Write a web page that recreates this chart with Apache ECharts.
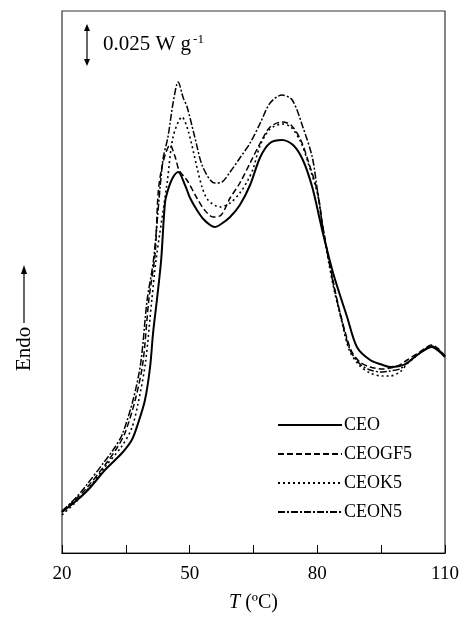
<!DOCTYPE html>
<html>
<head>
<meta charset="utf-8">
<script src="https://cdn.jsdelivr.net/npm/echarts@6/dist/echarts.min.js"></script>
<style>html,body{margin:0;padding:0;background:#fff;}#c{width:465px;height:623px;}</style>
</head>
<body>
<div id="c"></div>
<script>
// Temperature (°C) and heat flow (arbitrary units, endo up)
const CEO = [[20.0,41],[23.0,51],[26.1,63],[30.1,83],[34.1,100],[36.4,113],[37.9,130],[39.5,153],[40.7,186],[41.4,220],[42.3,253],[43.3,293],[44.2,350],[44.9,363],[46.0,375],[47.3,381],[48.9,368],[50.1,355],[51.7,343],[53.2,334],[54.8,328],[55.9,326],[57.4,329],[59.5,336],[61.8,348],[64.2,368],[66.6,396],[68.9,410],[71.7,413],[74.3,408],[76.6,393],[78.8,366],[80.6,333],[81.3,320],[83.7,280],[87.0,236],[89.3,206],[92.4,193],[95.4,188],[97.1,186],[99.4,187],[101.1,190],[104.1,200],[106.9,206],[108.5,202],[110.0,196]];
const CEOGF5 = [[20.0,41],[23.0,53],[25.4,63],[30.1,88],[32.9,105],[34.8,120],[37.2,153],[39.0,190],[40.4,253],[41.9,300],[42.6,360],[43.7,390],[45.4,408],[46.6,396],[47.5,383],[49.5,372],[51.7,355],[53.5,343],[55.5,336],[57.4,338],[59.5,355],[61.8,370],[64.2,390],[66.6,410],[68.9,426],[71.7,431],[73.8,428],[76.1,413],[78.0,390],[80.1,360],[81.3,326],[83.7,272],[85.6,236],[87.9,203],[90.0,191],[92.4,186],[95.4,184],[97.1,185],[99.4,188],[101.1,193],[104.1,201],[106.9,208],[108.5,204],[110.0,197]];
const CEOK5 = [[20.0,38],[23.0,50],[26.1,64],[30.1,86],[34.1,107],[36.4,125],[37.9,150],[39.6,190],[41.1,253],[42.1,293],[44.7,370],[46.1,416],[48.2,436],[49.6,423],[51.7,386],[52.9,366],[54.3,353],[57.1,346],[59.5,350],[61.8,360],[63.7,373],[64.9,384],[66.6,408],[68.9,424],[71.7,429],[73.8,426],[76.1,411],[78.0,388],[80.1,358],[81.3,324],[83.7,268],[85.6,234],[87.5,203],[89.8,188],[92.4,180],[95.4,177],[97.1,177],[99.4,181],[101.1,189],[104.1,200],[106.9,207],[108.5,203],[110.0,197]];
const CEON5 = [[20.0,42],[23.0,54],[25.4,66],[30.1,92],[32.0,103],[34.1,118],[36.7,153],[38.5,190],[40.0,253],[41.5,293],[43.7,393],[44.9,416],[46.1,450],[47.3,471],[48.5,455],[49.4,446],[51.2,416],[53.1,386],[55.9,370],[57.6,371],[59.5,381],[61.8,395],[64.2,410],[66.6,430],[68.9,450],[71.7,458],[74.1,453],[76.6,426],[78.8,396],[79.9,366],[81.3,326],[83.7,270],[85.6,235],[87.7,203],[90.0,189],[92.4,183],[95.4,181],[97.1,182],[99.4,184],[101.1,190],[104.1,200],[106.9,207],[108.5,203],[110.0,197]];
const seriesNames = ['CEO','CEOGF5','CEOK5','CEON5'];
const xTicks = [20,50,80,110];

const FONT = "'Liberation Serif','Times New Roman',serif";
const chart = echarts.init(document.getElementById('c'), null, {renderer:'canvas'});
const styles = [
  {type:'solid', width:2},
  {type:[6,3], width:1.5},
  {type:[2,3], width:1.6},
  {type:[7,2,2,2], width:1.5}
];
const datas = [CEO, CEOGF5, CEOK5, CEON5];
chart.setOption({
  animation:false,
  backgroundColor:'#fff',
  grid:{left:62,right:20,top:11,bottom:70,show:true,borderColor:'#333',borderWidth:1.2,backgroundColor:'transparent'},
  xAxis:{
    type:'value',min:20,max:110,interval:15,
    axisLine:{lineStyle:{color:'#000',width:1.2}},
    axisTick:{inside:true,length:8,lineStyle:{color:'#000',width:1}},
    splitLine:{show:false},
    axisLabel:{color:'#000',fontFamily:FONT,fontSize:19,margin:12,
      formatter:v=>xTicks.indexOf(v)>=0?String(v):''},
    name:'{i|T} (ºC)',nameLocation:'middle',nameGap:40,
    nameTextStyle:{color:'#000',fontFamily:FONT,fontSize:20,
      rich:{i:{fontStyle:'italic',fontFamily:FONT,fontSize:20,color:'#000'}}}
  },
  yAxis:{type:'value',min:0,max:542,show:false},
  legend:{
    orient:'vertical',left:272,top:411,itemWidth:64,itemHeight:12,itemGap:11,
    itemStyle:{opacity:0},
    textStyle:{color:'#000',fontFamily:FONT,fontSize:18,padding:[0,0,0,-3]},
    data:seriesNames
  },
  series:datas.map((d,i)=>({
    name:seriesNames[i],type:'line',data:d,symbol:'none',smooth:0.3,
    lineStyle:{color:'#000',type:styles[i].type,width:styles[i].width},
    itemStyle:{color:'#000'}
  })),
  graphic:[
    {type:'line',shape:{x1:87,y1:27,x2:87,y2:63},style:{stroke:'#000',lineWidth:1.2}},
    {type:'polygon',shape:{points:[[84,31],[87,24],[90,31]]},style:{fill:'#000'}},
    {type:'polygon',shape:{points:[[84,59],[87,66],[90,59]]},style:{fill:'#000'}},
    {type:'text',left:103,top:33,style:{text:'0.025 W g{s|-1}',fill:'#000',font:'21px '+FONT,
      rich:{s:{fontSize:13,fontFamily:FONT,verticalAlign:'top',padding:[0,0,10,2],fill:'#000'}}}},
    {type:'text',x:14,y:371,rotation:Math.PI/2,style:{text:'Endo',fill:'#000',font:'21px '+FONT,textVerticalAlign:'top'}},
    {type:'line',shape:{x1:24,y1:323,x2:24,y2:272},style:{stroke:'#000',lineWidth:1.2}},
    {type:'polygon',shape:{points:[[21,274],[24,265],[27,274]]},style:{fill:'#000'}}
  ]
});
</script>
</body>
</html>
